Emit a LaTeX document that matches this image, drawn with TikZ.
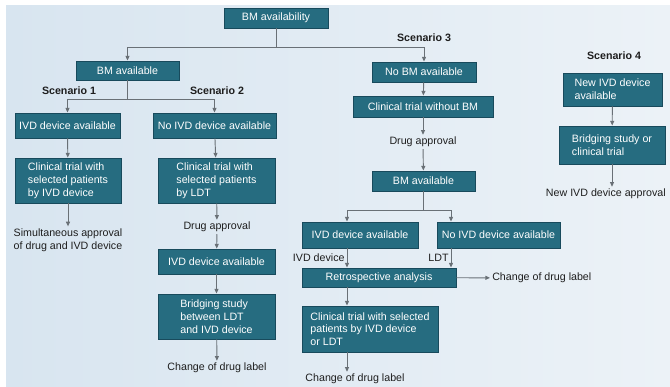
\documentclass[tikz,border=0pt]{standalone}
\usepackage{fontspec}
\setmainfont{Liberation Sans}
\definecolor{boxteal}{RGB}{38,108,128}
\definecolor{boxedge}{RGB}{24,74,92}
\definecolor{linegray}{RGB}{105,112,118}
\definecolor{bgleft}{RGB}{216,229,240}
\definecolor{bgright}{RGB}{236,242,247}
\definecolor{labeltext}{RGB}{30,30,30}
\usetikzlibrary{arrows.meta, positioning}

\begin{document}
\begin{tikzpicture}[x=0.75pt, y=-0.75pt,
    box/.style={draw=boxedge, line width=0.7pt, fill=boxteal, text=white,
      font=\fontsize{8}{9.6}\selectfont, inner sep=1pt},
    lbl/.style={text=labeltext, font=\fontsize{8}{9.6}\selectfont, inner sep=1.5pt},
    scen/.style={lbl, font=\fontsize{8}{9.6}\selectfont\bfseries},
    conn/.style={draw=linegray, line width=0.7pt},
    arr/.style={conn, -{Triangle[length=3.5pt, width=3pt]}}]
  \useasboundingbox (0,0) rectangle (670,386);
  \fill[left color=bgleft, right color=bgright] (6,5) rectangle (670,386);

  \node[box, minimum width=78pt, minimum height=15pt] (top) at (276,18) {BM availability};
  \node[box, minimum width=77.25pt, minimum height=14.25pt] (bmyes) at (127.5,70.5) {BM available};
  \node[box, minimum width=78pt, minimum height=15pt] (bmno) at (424,72) {No BM available};

  \foreach \p/\n in {{69,91}/1, {217,91}/2, {424,38}/3, {614,56}/4}
    \node[scen] (sc\n) at (\p) {Scenario \n};

  \node[box, minimum width=78.75pt, minimum height=18.75pt] (ivd1) at (67.5,125.5) {IVD device available};
  \node[box, minimum width=92.25pt, minimum height=18.75pt] (noivd2) at (214.5,125.5) {No IVD device available};
  \node[box, minimum width=79.5pt, minimum height=33.75pt, align=left] (ct1) at (68,180.5)
    {Clinical trial with\\selected patients\\by IVD device};
  \node[box, minimum width=87.75pt, minimum height=33.75pt, align=left] (ct2) at (216.5,180.5)
    {Clinical trial with\\selected patients\\by LDT};
  \node[lbl, align=left] (simul) at (68,240) {Simultaneous approval\\of drug and IVD device};
  \node[lbl] (appr2) at (217,227) {Drug approval};
  \node[box, minimum width=87.75pt, minimum height=18.75pt] (ivd2) at (216.5,261.5) {IVD device available};
  \node[box, minimum width=87.75pt, minimum height=33.75pt, align=left] (bridge2) at (216.5,316.5)
    {Bridging study\\between LDT\\and IVD device};
  \node[lbl] (chg2) at (217,368) {Change of drug label};

  \node[box, minimum width=105pt, minimum height=15.75pt] (ctnobm) at (423,106.5) {Clinical trial without BM};
  \node[lbl] (appr3) at (423,142) {Drug approval};
  \node[box, minimum width=77.25pt, minimum height=15pt] (bmyes3) at (423.5,181) {BM available};
  \node[box, minimum width=87pt, minimum height=19.5pt] (ivd3) at (360,235) {IVD device available};
  \node[box, minimum width=92.25pt, minimum height=19.5pt] (noivd3) at (498.5,235) {No IVD device available};
  \node[box, minimum width=115.5pt, minimum height=14.25pt] (retro) at (379,277.5) {Retrospective analysis};
  \node[box, minimum width=102pt, minimum height=34.5pt, align=left] (ct3) at (370,329)
    {Clinical trial with selected\\patients by IVD device\\or LDT};
  \node[lbl] (chg3) at (355,379) {Change of drug label};
  \node[lbl, anchor=west] (chg3r) at (490,278) {Change of drug label};

  \node[box, minimum width=74.25pt, minimum height=24.75pt, align=left] (newivd) at (612.5,89.5)
    {New IVD device\\available};
  \node[box, minimum width=79.5pt, minimum height=28.5pt, align=left] (bridge4) at (612,145)
    {Bridging study or\\clinical trial};
  \node[lbl, anchor=east] (appr4) at (668,194) {New IVD device approval};

  \coordinate (j1) at (276,47);
  \coordinate (j2) at (127.5,99);
  \coordinate (j3) at (423.5,210);
  \coordinate (colA) at (347,0);
  \coordinate (colB) at (451,0);

  \draw[conn] (top.south) -- (j1);
  \draw[arr] (j1) -| (bmyes.north);
  \draw[arr] (j1) -| (bmno.north);
  \draw[conn] (bmyes.south) -- (j2);
  \draw[arr] (j2) -| (ivd1.north);
  \draw[arr] (j2) -| (noivd2.north);
  \draw[arr] (ivd1) -- (ct1);
  \draw[arr] (ct1) -- (simul);
  \draw[arr] (noivd2) -- (ct2);
  \draw[arr] (ct2) -- (appr2);
  \draw[arr] (appr2) -- (ivd2);
  \draw[arr] (ivd2) -- (bridge2);
  \draw[arr] (bridge2) -- (chg2);

  \draw[arr] (bmno) -- (ctnobm);
  \draw[arr] (ctnobm) -- (appr3);
  \draw[arr] (appr3) -- (bmyes3);
  \draw[conn] (bmyes3.south) -- (j3);
  \draw[arr] (j3) -| (ivd3.north -| colA);
  \draw[arr] (j3) -| (noivd3.north -| colB);
  \draw[arr] (ivd3.south -| colA) -- node[lbl, left] {IVD device} (retro.north -| colA);
  \draw[arr] (noivd3.south -| colB) -- node[lbl, left] {LDT} (retro.north -| colB);
  \draw[arr] (retro) -- (chg3r);
  \draw[arr] (retro.south -| colA) -- (ct3.north -| colA);
  \draw[arr] (ct3.south -| colA) -- (chg3.north -| colA);

  \draw[arr] (newivd) -- (bridge4);
  \draw[arr] (bridge4.south) -- (bridge4.south |- appr4.north);
\end{tikzpicture}
\end{document}
